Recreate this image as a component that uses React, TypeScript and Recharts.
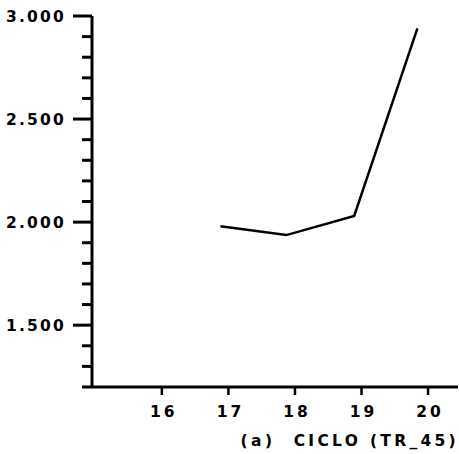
import React from "react";
import { LineChart, Line, XAxis, YAxis } from "recharts";

const cycles = [16.88, 17.87, 18.89, 19.84];
const values = [1980, 1937, 2030, 2940];
const xTicks = [16, 17, 18, 19, 20];
const yTicks = [1200, 1300, 1400, 1500, 1600, 1700, 1800, 1900, 2000, 2100, 2200, 2300, 2400, 2500, 2600, 2700, 2800, 2900, 3000];
const yLabelled = [1500, 2000, 2500, 3000];
const axisCaptionLeft = "(a)";
const axisCaptionRight = "CICLO (TR_45)";

const data = cycles.map((c, i) => ({ ciclo: c, valor: values[i] }));

const FONT = "'DejaVu Sans', sans-serif";

const YTick = (props: any) => {
  const { x, y, payload } = props;
  const v = payload.value as number;
  const major = yLabelled.includes(v);
  const len = major ? 19 : 10;
  return (
    <g>
      <line x1={x - len} y1={y} x2={x} y2={y} stroke="#000" strokeWidth={3} />
      {major && (
        <text
          x={x - 26}
          y={y}
          dy="0.36em"
          textAnchor="end"
          fontFamily={FONT}
          fontWeight="bold"
          fontSize={15.5}
          letterSpacing={2.2}
          fill="#000"
        >
          {(v / 1000).toFixed(3)}
        </text>
      )}
    </g>
  );
};

const XTick = (props: any) => {
  const { x, y, payload } = props;
  return (
    <text
      x={x + 2}
      y={y + 9}
      dy="0.71em"
      textAnchor="middle"
      fontFamily={FONT}
      fontWeight="bold"
      fontSize={15.5}
      letterSpacing={3}
      fill="#000"
    >
      {payload.value}
    </text>
  );
};

const Caption = (props: any) => {
  const vb = props.viewBox || {};
  const baseY = (vb.y ?? 387) + 59;
  return (
    <g>
      <text
        x={258}
        y={baseY}
        textAnchor="middle"
        fontFamily={FONT}
        fontWeight="bold"
        fontSize={15.5}
        letterSpacing={3.5}
        fill="#000"
      >
        {axisCaptionLeft}
      </text>
      <text
        x={459}
        y={baseY}
        textAnchor="end"
        fontFamily={FONT}
        fontWeight="bold"
        fontSize={15.5}
        letterSpacing={3.3}
        fill="#000"
      >
        {axisCaptionRight}
      </text>
    </g>
  );
};

export default function App() {
  return (
    <div style={{ position: "absolute", left: 0, top: 0, background: "#fff" }}>
      <LineChart
        width={459}
        height={454}
        data={data}
        margin={{ top: 16, right: 1, bottom: 0, left: 0 }}
      >
        <XAxis
          dataKey="ciclo"
          type="number"
          domain={[14.95, 20.45]}
          ticks={xTicks}
          allowDataOverflow
          height={67}
          axisLine={{ stroke: "#000", strokeWidth: 3 }}
          tickLine={{ stroke: "#000", strokeWidth: 2.5 }}
          tickSize={8}
          tick={<XTick />}
          label={<Caption />}
        />
        <YAxis
          type="number"
          domain={[1200, 3000]}
          ticks={yTicks}
          interval={0}
          allowDataOverflow
          width={92}
          axisLine={{ stroke: "#000", strokeWidth: 3 }}
          tickLine={false}
          tickSize={0}
          tickMargin={0}
          tick={<YTick />}
        />
        <Line
          type="linear"
          dataKey="valor"
          stroke="#000"
          strokeWidth={2.5}
          dot={false}
          isAnimationActive={false}
        />
      </LineChart>
    </div>
  );
}
